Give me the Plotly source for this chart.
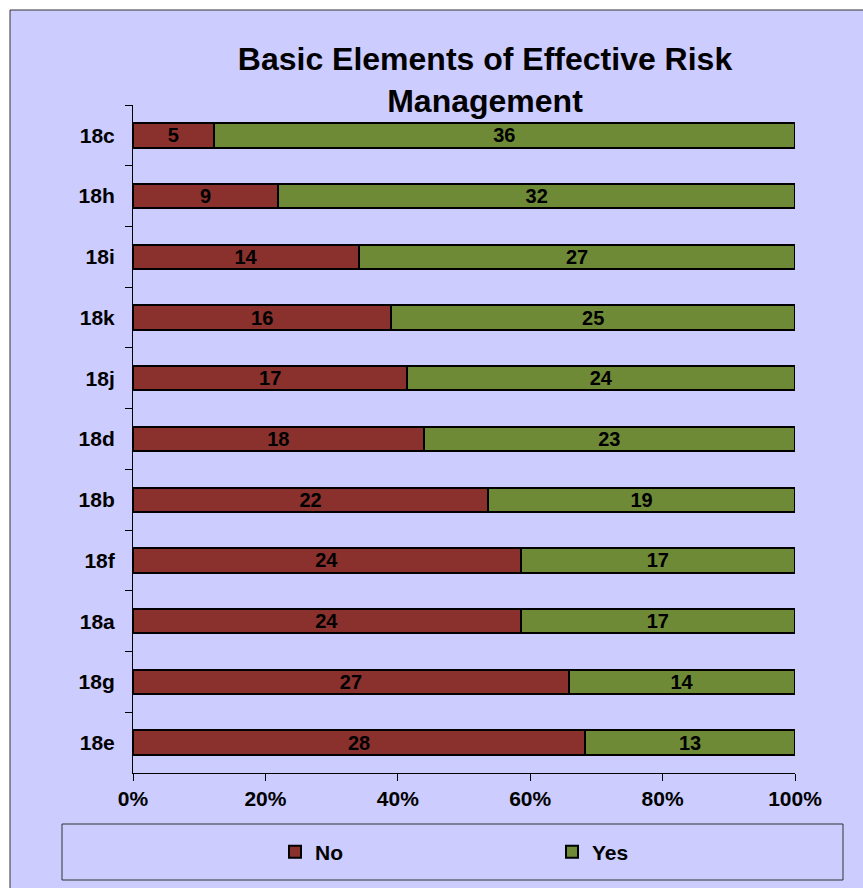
import plotly.graph_objects as go

categories = ["18c", "18h", "18i", "18k", "18j", "18d", "18b", "18f", "18a", "18g", "18e"]
no_values = [5, 9, 14, 16, 17, 18, 22, 24, 24, 27, 28]
yes_values = [36, 32, 27, 25, 24, 23, 19, 17, 17, 14, 13]
x_ticks = [0, 20, 40, 60, 80, 100]
x_tick_labels = ["0%", "20%", "40%", "60%", "80%", "100%"]

W, H = 863, 888
L, R, T, B = 133, 795, 105, 773

def px_x(p):
    return (p - L) / (R - L)

def px_y(p):
    return (B - p) / (B - T)

FONT = "Arial, Liberation Sans, sans-serif"
BG = "#CCCCFF"

fig = go.Figure()
fig.add_trace(go.Bar(
    y=categories, x=no_values, name="No", orientation="h",
    marker=dict(color="#8A302D", line=dict(color="black", width=2)),
    text=no_values, textposition="inside", insidetextanchor="middle", textangle=0,
    textfont=dict(family=FONT, size=20, color="black", weight="bold"),
    width=0.4,
))
fig.add_trace(go.Bar(
    y=categories, x=yes_values, name="Yes", orientation="h",
    marker=dict(color="#6E8A36", line=dict(color="black", width=2)),
    text=yes_values, textposition="inside", insidetextanchor="middle", textangle=0,
    textfont=dict(family=FONT, size=20, color="black", weight="bold"),
    width=0.4,
))

# outer chart box
fig.add_shape(type="rect", xref="paper", yref="paper", layer="below",
              x0=px_x(10), x1=px_x(880), y0=px_y(900), y1=px_y(10),
              fillcolor=BG, line=dict(color="#333333", width=1))
# legend box
fig.add_shape(type="rect", xref="paper", yref="paper", layer="below",
              x0=px_x(62), x1=px_x(843), y0=px_y(880), y1=px_y(824),
              fillcolor=BG, line=dict(color="#333333", width=1))

fig.update_layout(
    width=W, height=H,
    margin=dict(l=L, r=W - R, t=T, b=H - B, pad=0, autoexpand=False),
    paper_bgcolor="white",
    plot_bgcolor="rgba(0,0,0,0)",
    barmode="stack", barnorm="percent",
    uniformtext=dict(minsize=20, mode="show"),
    title=dict(text="<b>Basic Elements of Effective Risk<br>Management</b>",
               font=dict(family=FONT, size=32, color="black"),
               x=485 / W, xanchor="center", xref="container",
               y=1 - 70 / H, yanchor="top", yref="container"),
    font=dict(family=FONT, color="black"),
    xaxis=dict(range=[0, 100], tickvals=x_ticks, ticktext=x_tick_labels,
               showgrid=False, zeroline=False, showline=True, linecolor="black",
               linewidth=1, ticks="outside", ticklen=7, tickcolor="black",
               tickfont=dict(family=FONT, size=21, color="black", weight="bold"),
               fixedrange=True),
    yaxis=dict(autorange="reversed", showgrid=False, zeroline=False,
               showline=True, linecolor="black", linewidth=1,
               ticks="outside", ticklen=7, tickcolor="black", tickson="boundaries",
               tickfont=dict(family=FONT, size=21, color="black", weight="bold"),
               ticklabelstandoff=13),
    legend=dict(orientation="h", x=px_x(275), xanchor="left",
                y=px_y(852), yanchor="middle", bgcolor="rgba(0,0,0,0)",
                font=dict(family=FONT, size=21, color="black", weight="bold"),
                entrywidth=232, itemwidth=30, traceorder="normal", itemclick=False),
    bargap=0.6,
)

fig.write_html("out.html")
